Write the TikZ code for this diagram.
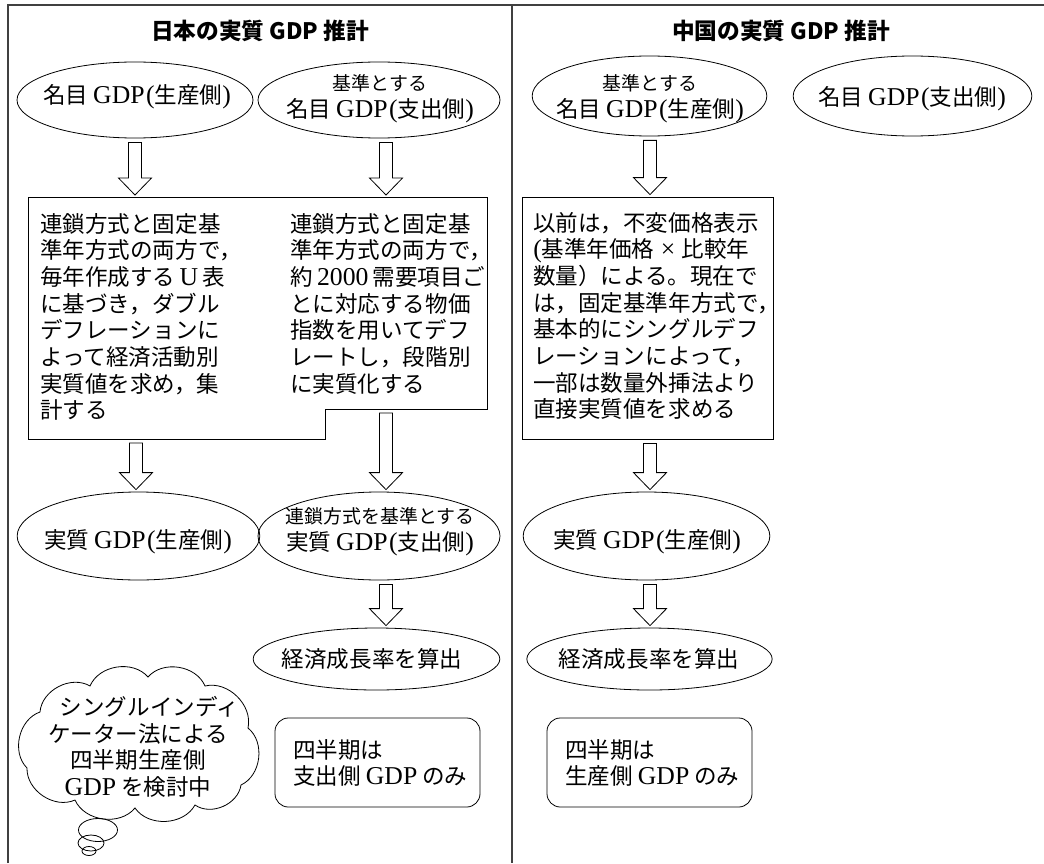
\documentclass[tikz,border=0pt]{standalone}
\usepackage{fontspec}
\setmainfont{Noto Sans CJK JP}
\newfontfamily\lat[Scale=1.14]{Liberation Serif}
\usetikzlibrary{shapes.geometric,calc}
\newcommand\G{{\lat GDP}}
\newcommand\lp{\kern1.2pt{\lat(}}
\newcommand\rp{{\lat)}}
\newcommand\bodyf{\fontsize{16.9pt}{20pt}\selectfont}
\newcommand\smallf{\fontsize{14.2pt}{17pt}\selectfont}
\newcommand\titlef{\fontsize{17pt}{20pt}\selectfont\bfseries}
\newcommand\barrow[3]{%
  \draw[barr] let \p3=(#1,0), \p1=(#2), \p2=(#3) in
   (\x3-4.9pt,\y1-3pt) -- (\x3-4.9pt,\y2+14.25pt) -- (\x3-12.4pt,\y2+14.25pt)
   -- (\x3,\y2+1.5pt) -- (\x3+12.4pt,\y2+14.25pt) -- (\x3+4.9pt,\y2+14.25pt)
   -- (\x3+4.9pt,\y1-3pt) -- cycle;}
\begin{document}
\begin{tikzpicture}[x=0.75pt,y=-0.75pt,
  frame/.style={draw=black!75,line width=0.9pt},
  ell/.style={ellipse,draw,line width=0.6pt,inner sep=0pt},
  lbl/.style={inner sep=0pt,font=\bodyf,align=center},
  barr/.style={draw,line width=0.6pt,fill=white},
  txt/.style={inner sep=0pt,font=\bodyf,align=left},
  rbox/.style={draw,line width=0.6pt,rounded corners=10pt,inner sep=0pt},
  sqbox/.style={draw,line width=0.6pt,inner sep=0pt},
  puff/.style={bend left=58},
  ttl/.style={inner sep=0pt,font=\titlef}]
\useasboundingbox (0,0) rectangle (1044,863);
% frame
\draw[frame] (8,863) -- (8,5) -- (1044,5);
\draw[frame] (512,5) -- (512,863);
% titles
\node[ttl] (t1) at (260,31) {日本の実質 GDP 推計};
\node[ttl] (t2) at (781,31) {中国の実質 GDP 推計};
% ---------- Japan ----------
\node[ell,minimum width=177pt,minimum height=57pt] (e1) at (135,100) {};
\node[lbl] (e1t) at (137,97) {名目 \G\lp 生産側\rp};
\node[ell,minimum width=181.5pt,minimum height=57pt] (e2) at (379,100) {};
\node[lbl] (e2t) at (380,99) {{\smallf 基準とする}\\名目 \G\lp 支出側\rp};
% polygon box
\draw[line width=0.6pt] (28,197) -- (487,197) -- (487,409) -- (325,409) -- (325,439) -- (28,439) -- cycle;
\coordinate (jbN) at (258,197);
\coordinate (jbS1) at (176,439);
\coordinate (jbS2) at (406,409);
\node[txt,anchor=north west] (jb1) at (40,213) {連鎖方式と固定基\\準年方式の両方で，\\毎年作成する{\lat\,U\,}表\\に基づき，ダブル\\デフレーションに\\よって経済活動別\\実質値を求め，集\\計する};
\node[txt,anchor=north west] (jb2) at (290,213) {連鎖方式と固定基\\準年方式の両方で，\\約{\lat\,2000\,}需要項目ご\\とに対応する物価\\指数を用いてデフ\\レートし，段階別\\に実質化する};
\barrow{135}{e1.south}{jbN}
\barrow{386}{e2.south}{jbN}
\node[ell,minimum width=182pt,minimum height=66pt] (e5) at (138.5,536) {};
\node[lbl] (e5t) at (138,542) {実質 \G\lp 生産側\rp};
\node[ell,minimum width=181.5pt,minimum height=66pt] (e6) at (379,536) {};
\node[lbl] (e6t) at (380,532) {{\smallf 連鎖方式を基準とする}\\実質 \G\lp 支出側\rp};
\barrow{136}{jbS1}{e5.north}
\barrow{386}{jbS2}{e6.north}
\node[ell,minimum width=185pt,minimum height=46.5pt] (e8) at (376.5,659) {};
\node[lbl] (e8t) at (372,659) {経済成長率を算出};
\barrow{386}{e6.south}{e8.north}
% cloud (thought bubble)
\draw[line width=0.6pt] (40,712) to[puff] (90,686) to[puff] (148,677) to[puff] (205,686)
  to[puff] (248,728) to[puff] (241,785) to[puff] (195,805) to[puff] (135,808)
  to[puff] (75,800) to[puff] (27,768) to[puff] (40,712) -- cycle;
\node[ell,minimum width=29.25pt,minimum height=17.25pt] (b1) at (98,830) {};
\node[ell,minimum width=19.5pt,minimum height=12pt] (b2) at (91,843) {};
\node[ell,minimum width=10.5pt,minimum height=6.75pt] (b3) at (89,851) {};
\node[lbl] (clt) at (138,747) {\hspace*{1em}シングルインディ\\ケーター法による\\四半期生産側\\\G\ を検討中};
\node[rbox,minimum width=153.75pt,minimum height=66.75pt] (r1) at (377.5,762.5) {};
\node[txt,anchor=north west] (r1t) at (293,739) {四半期は\\支出側 \G\ のみ};
% ---------- China ----------
\node[ell,minimum width=176pt,minimum height=60pt] (e3) at (649.5,96) {};
\node[lbl] (e3t) at (650,99) {{\smallf 基準とする}\\名目 \G\lp 生産側\rp};
\node[ell,minimum width=179pt,minimum height=60pt] (e4) at (912.5,96) {};
\node[lbl] (e4t) at (912,99) {名目 \G\lp 支出側\rp};
\node[sqbox,minimum width=188.25pt,minimum height=181.5pt] (cb) at (647.5,318) {};
\node[txt,anchor=north west] (cbt) at (533,212) {以前は，不変価格表示\\{\lat(}基準年価格{\lat\ ×\ }比較年\\数量）による。現在で\\は，固定基準年方式で，\\基本的にシングルデフ\\レーションによって，\\一部は数量外挿法より\\直接実質値を求める};
\barrow{650}{e3.south}{cb.north}
\node[ell,minimum width=185pt,minimum height=66pt] (e7) at (646.5,536) {};
\node[lbl] (e7t) at (647,542) {実質 \G\lp 生産側\rp};
\barrow{650}{cb.south}{e7.north}
\node[ell,minimum width=184pt,minimum height=46.5pt] (e9) at (649.5,659) {};
\node[lbl] (e9t) at (649,659) {経済成長率を算出};
\barrow{650}{e7.south}{e9.north}
\node[rbox,minimum width=153.75pt,minimum height=66.75pt] (r2) at (649.5,762.5) {};
\node[txt,anchor=north west] (r2t) at (565,739) {四半期は\\生産側 \G\ のみ};
\end{tikzpicture}
\end{document}
